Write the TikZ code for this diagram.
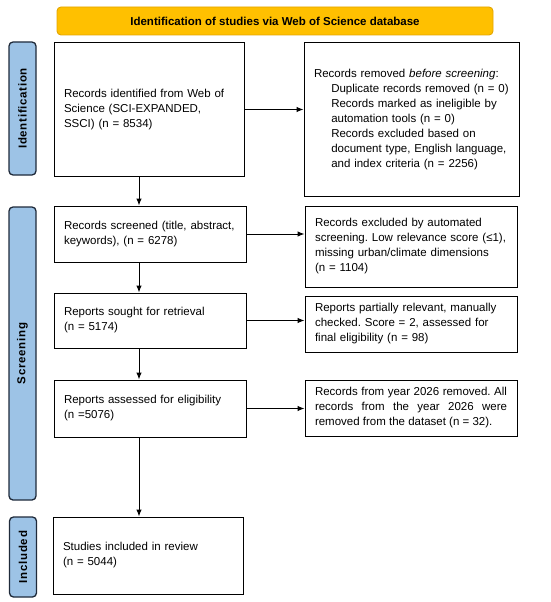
\documentclass[tikz,border=0pt]{standalone}
\usepackage{fontspec}
\setmainfont{Liberation Sans}
\newfontfamily\phasefont[LetterSpace=6]{Liberation Sans}
\usepackage{tikz}
\usetikzlibrary{arrows.meta}
\frenchspacing

\definecolor{bannerfill}{HTML}{FFC000}
\definecolor{bannerline}{HTML}{E3A500}
\definecolor{phasefill}{HTML}{9DC3E6}
\definecolor{phaseline}{HTML}{1F2A3A}

\begin{document}
\begin{tikzpicture}[x=1pt, y=-1pt,
    recbox/.style={draw, line width=1pt, align=left, inner xsep=10pt, inner ysep=4pt,
        font=\fontsize{11.5}{15}\selectfont},
    phase/.style={draw=phaseline, line width=1.3pt, fill=phasefill, rounded corners=4pt,
        minimum height=27pt, inner sep=0pt, rotate=90,
        font=\phasefont\fontsize{11.5}{13}\selectfont\bfseries},
    flow/.style={line width=1pt, -{Latex[length=7pt,width=5.5pt]}}]
    \useasboundingbox (0,0) rectangle (550,602);

    % banner on top
    \node[draw=bannerline, line width=0.9pt, fill=bannerfill, rounded corners=4pt,
        minimum width=436pt, minimum height=28pt, font=\fontsize{11.5}{13}\selectfont\bfseries]
        (banner) at (275,21) {Identification of studies via Web of Science database};

    % phase labels
    \node[phase, minimum width=133pt] (idphase) at (22.5,108.5) {Identification};
    \node[phase, minimum width=293pt] (scrphase) at (22.5,353.5) {Screening};
    \node[phase, minimum width=80pt] (incphase) at (23,557) {Included};

    % main column
    \node[recbox, text width=170pt, minimum height=133pt] (identified) at (149,109.5)
        {Records identified from Web of\\Science (SCI-EXPANDED,\\SSCI) (n = 8534)};
    \node[recbox, text width=172pt, minimum height=56pt] (screened) at (150,234)
        {Records screened (title, abstract,\\keywords), (n = 6278)};
    \node[recbox, text width=172pt, minimum height=55pt] (sought) at (150,320.5)
        {Reports sought for retrieval\\(n = 5174)};
    \node[recbox, text width=172pt, minimum height=57pt] (assessed) at (150,408.5)
        {Reports assessed for eligibility\\(n =5076)};
    \node[recbox, text width=170pt, minimum height=77pt] (included) at (148,555.5)
        {Studies included in review\\(n = 5044)\\[14pt]};

    % excluded column
    \node[recbox, text width=195pt, minimum height=153pt] (removed) at (411.5,119.5)
        {Records removed \textit{before screening}:\\
        \hspace*{1.5em}Duplicate records removed (n = 0)\\
        \hspace*{1.5em}Records marked as ineligible by\\
        \hspace*{1.5em}automation tools (n = 0)\\
        \hspace*{1.5em}Records excluded based on\\
        \hspace*{1.5em}document type, English language,\\
        \hspace*{1.5em}and index criteria (n = 2256)};
    \node[recbox, text width=192pt, minimum height=81pt] (autoexcl) at (411,246.5)
        {Records excluded by automated\\screening. Low relevance score (≤1),\\missing urban/climate dimensions\\(n = 1104)\\[20pt]};
    \node[recbox, text width=192pt, minimum height=56pt] (partial) at (411,324)
        {Reports partially relevant, manually\\checked. Score = 2, assessed for\\final eligibility (n = 98)};
    \node[recbox, text width=192pt, minimum height=56pt, align=justify] (year2026) at (411,408)
        {Records from year 2026 removed. All\linebreak records from the year 2026 were\linebreak removed from the dataset (n = 32).};

    % arrows down the main column
    \coordinate (spine) at (139,0);
    \draw[flow] (identified.south -| spine) -- (screened.north -| spine);
    \draw[flow] (screened.south -| spine) -- (sought.north -| spine);
    \draw[flow] (sought.south -| spine) -- (assessed.north -| spine);
    \draw[flow] (assessed.south -| spine) -- (included.north -| spine);

    % arrows to the right
    \draw[flow] (identified.east) -- (identified.east -| removed.west);
    \draw[flow] (screened.east) -- (screened.east -| autoexcl.west);
    \draw[flow] (sought.east) -- (sought.east -| partial.west);
    \draw[flow] (assessed.east) -- (assessed.east -| year2026.west);
\end{tikzpicture}
\end{document}
